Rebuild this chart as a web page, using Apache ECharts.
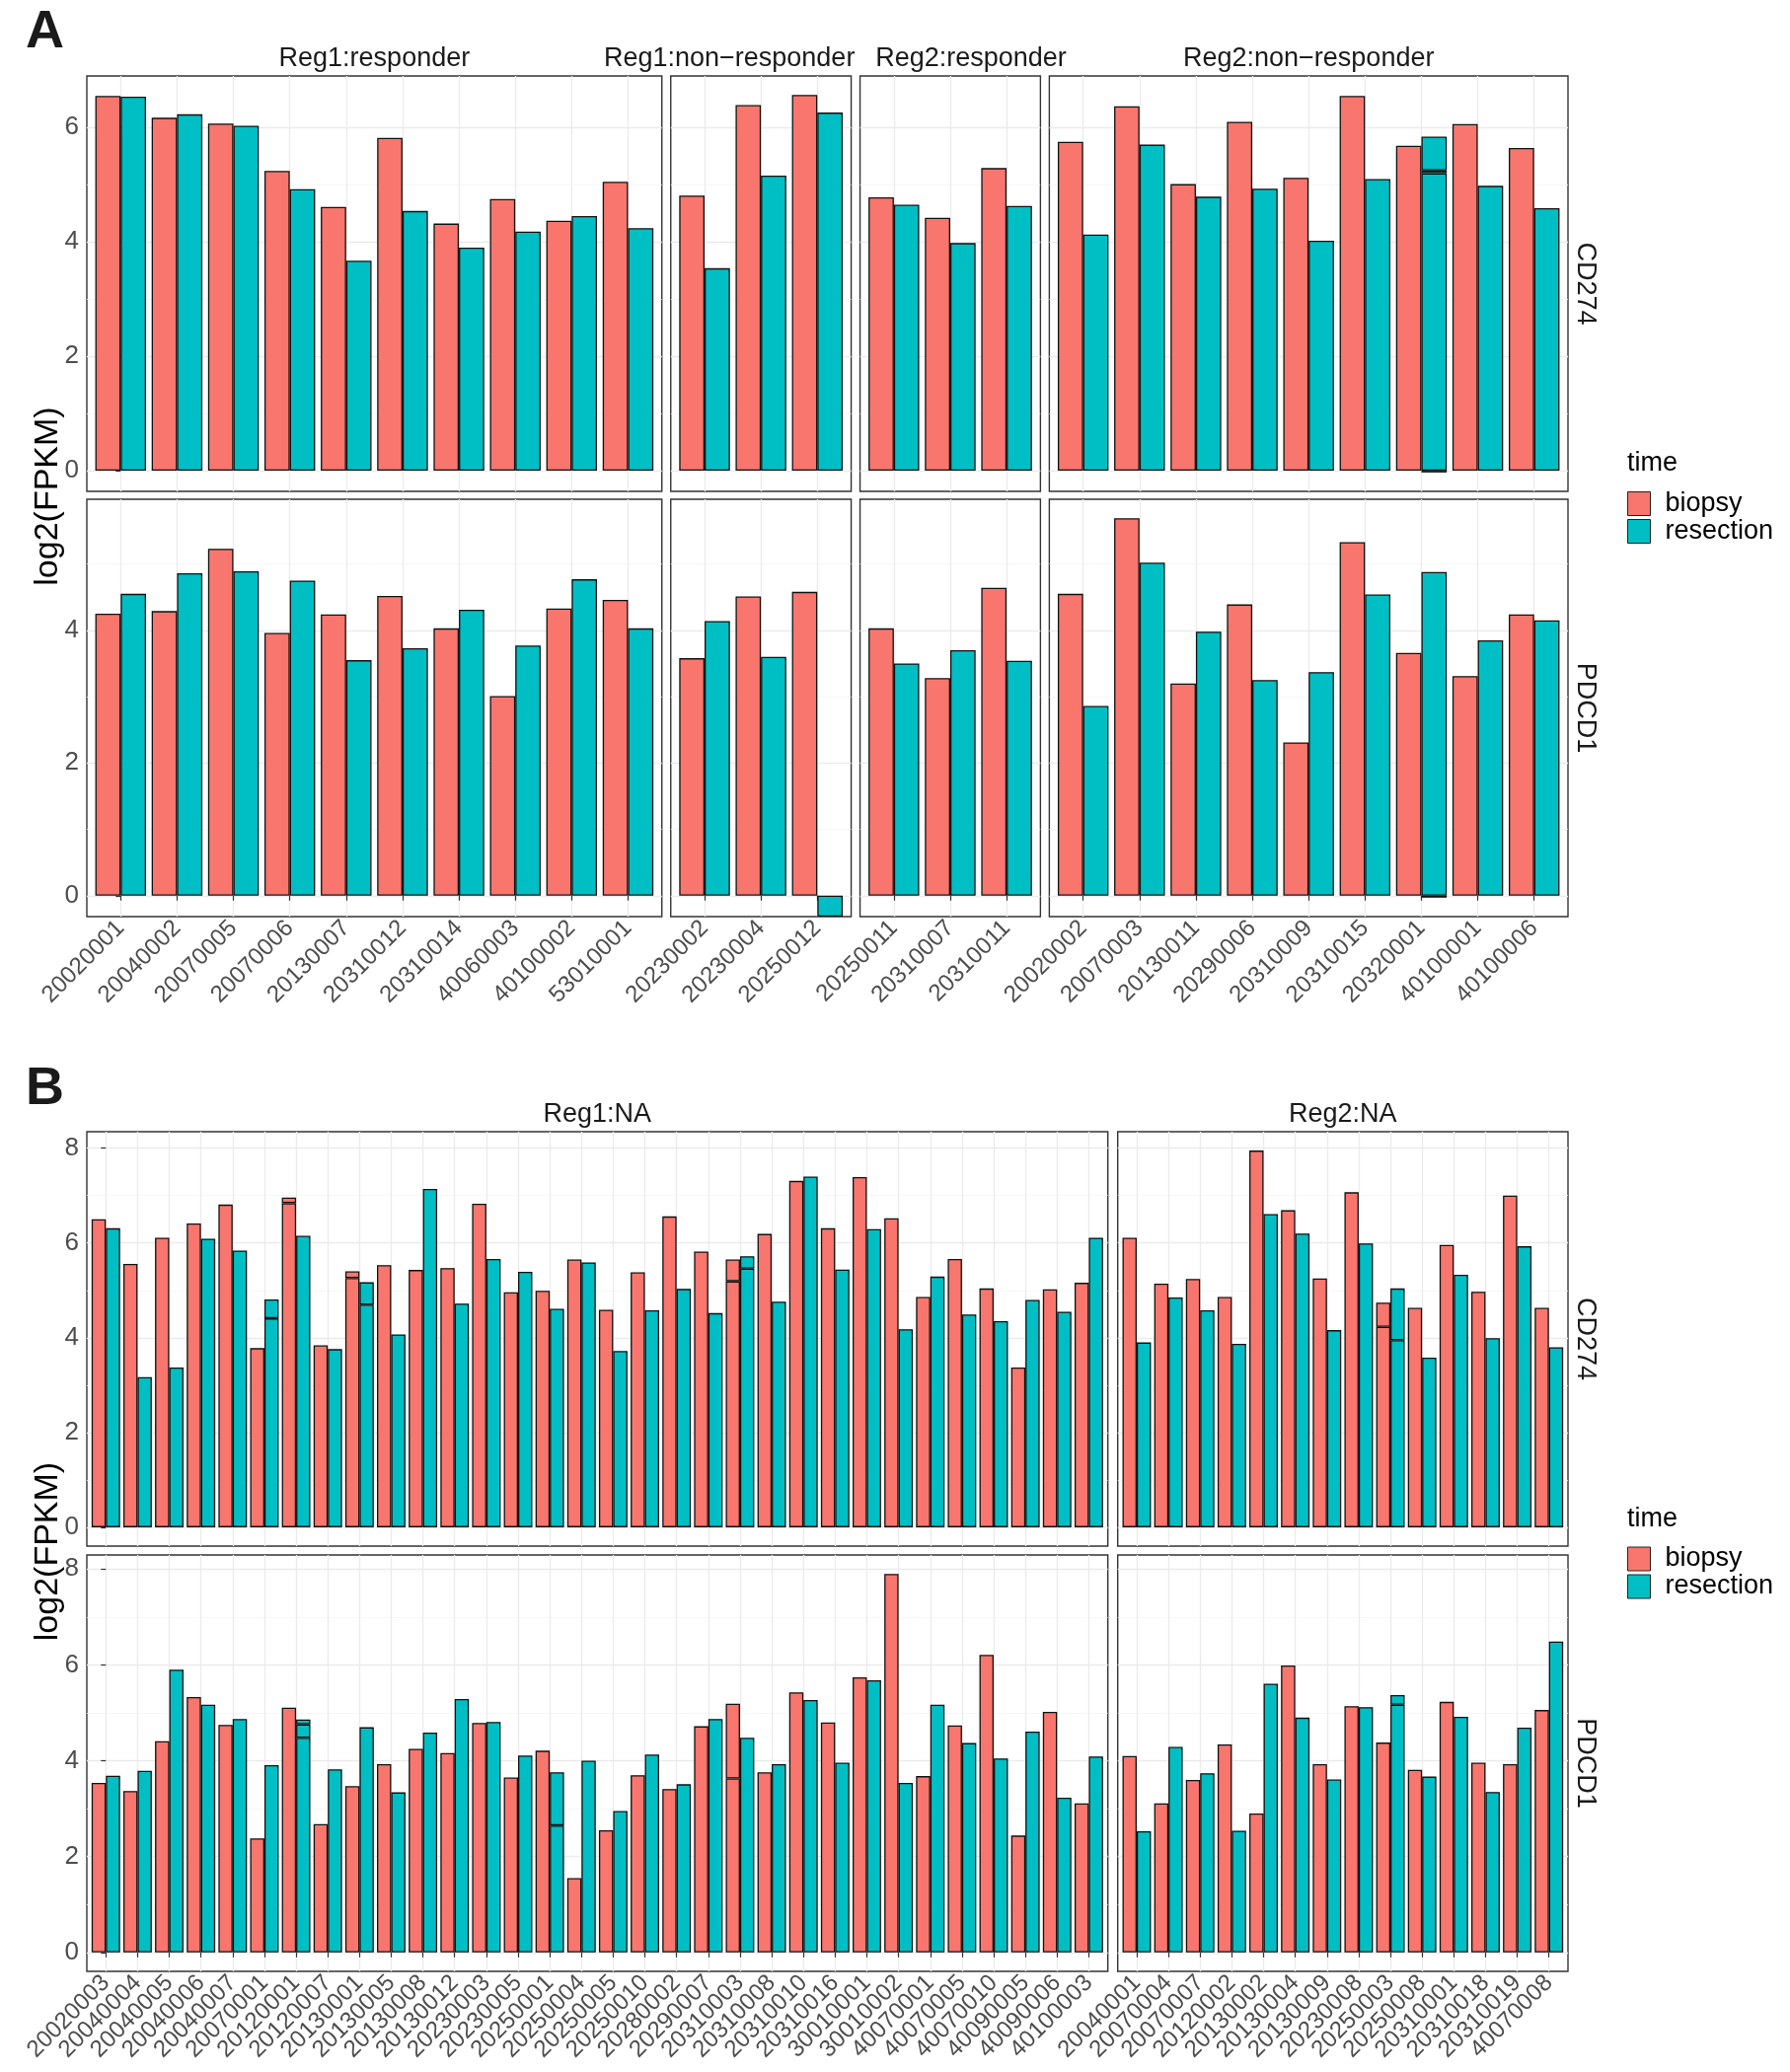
<!DOCTYPE html>
<html>
<head>
<meta charset="utf-8">
<script src="https://cdn.jsdelivr.net/npm/echarts@6/dist/echarts.min.js"></script>
<style>html,body{margin:0;padding:0;background:#fff}#chart{width:1814px;height:2100px}</style>
</head>
<body>
<div id="chart"></div>
<script>
// ===================== DATA =====================
// values are log2(FPKM); an array in a cell = overlapping bars of duplicate samples
// -Infinity = log2(0), drawn by ggplot down to the panel edge
const timeLevels = ['biopsy', 'resection'];
const genes = ['CD274', 'PDCD1'];

// ---- Panel A ----
const aReg1RespCats = ['20020001','20040002','20070005','20070006','20130007','20310012','20310014','40060003','40100002','53010001'];
const aReg1RespCd274Biopsy    = [6.55, 6.17, 6.07, 5.24, 4.61, 5.82, 4.32, 4.75, 4.37, 5.05];
const aReg1RespCd274Resection = [6.54, 6.23, 6.03, 4.92, 3.67, 4.54, 3.90, 4.18, 4.45, 4.24];
const aReg1RespPdcd1Biopsy    = [4.25, 4.29, 5.23, 3.96, 4.24, 4.52, 4.03, 3.01, 4.33, 4.46];
const aReg1RespPdcd1Resection = [4.55, 4.86, 4.89, 4.75, 3.55, 3.73, 4.31, 3.77, 4.77, 4.03];

const aReg1NonCats = ['20230002','20230004','20250012'];
const aReg1NonCd274Biopsy    = [4.81, 6.39, 6.57];
const aReg1NonCd274Resection = [3.54, 5.16, 6.26];
const aReg1NonPdcd1Biopsy    = [3.58, 4.51, 4.58];
const aReg1NonPdcd1Resection = [4.14, 3.60, -Infinity];

const aReg2RespCats = ['20250011','20310007','20310011'];
const aReg2RespCd274Biopsy    = [4.78, 4.42, 5.29];
const aReg2RespCd274Resection = [4.65, 3.98, 4.63];
const aReg2RespPdcd1Biopsy    = [4.03, 3.28, 4.64];
const aReg2RespPdcd1Resection = [3.50, 3.70, 3.54];

const aReg2NonCats = ['20020002','20070003','20130011','20290006','20310009','20310015','20320001','40100001','40100006'];
const aReg2NonCd274Biopsy    = [5.75, 6.37, 5.01, 6.10, 5.12, 6.55, 5.68, 6.06, 5.64];
const aReg2NonCd274Resection = [4.13, 5.70, 4.79, 4.93, 4.02, 5.10, [5.84, 5.25, 5.20, -0.03], 4.98, 4.59];
const aReg2NonPdcd1Biopsy    = [4.55, 5.69, 3.20, 4.39, 2.31, 5.33, 3.66, 3.31, 4.24];
const aReg2NonPdcd1Resection = [2.86, 5.02, 3.98, 3.25, 3.37, 4.54, [4.88, -0.03], 3.85, 4.15];

// ---- Panel B ----
const bReg1Cats = ['20020003','20040004','20040005','20040006','20040007','20070001','20120001','20120007','20130001','20130005','20130008','20130012','20230003','20230005','20250001','20250004','20250005','20250010','20280002','20290007','20310003','20310008','20310010','20310016','30010001','30010002','40070001','40070005','40070010','40090005','40090006','40100003'];
const bReg1Cd274Biopsy    = [6.50, 5.56, 6.11, 6.41, 6.81, 3.78, [6.96, 6.84], 3.84, [5.40, 5.26], 5.53, 5.43, 5.47, 6.83, 4.96, 4.99, 5.65, 4.59, 5.38, 6.56, 5.82, [5.65, 5.19], 6.19, 7.31, 6.31, 7.39, 6.52, 4.86, 5.66, 5.04, 3.37, 5.02, 5.16];
const bReg1Cd274Resection = [6.31, 3.17, 3.37, 6.09, 5.84, [4.81, 4.41], 6.15, 3.76, [5.17, 4.70], 4.07, 7.14, 4.72, 5.66, 5.39, 4.61, 5.59, 3.72, 4.58, 5.03, 4.52, [5.72, 5.46], 4.76, 7.40, 5.44, 6.29, 4.18, 5.29, 4.49, 4.35, 4.80, 4.55, 6.11];
const bReg1Pdcd1Biopsy    = [3.54, 3.37, 4.41, 5.33, 4.75, 2.38, 5.11, 2.68, 3.47, 3.93, 4.25, 4.16, 4.79, 3.65, 4.21, 1.55, 2.55, 3.70, 3.41, 4.72, [5.19, 3.63], 3.76, 5.43, 4.80, 5.74, 7.90, 3.68, 4.74, 6.21, 2.44, 5.02, 3.11];
const bReg1Pdcd1Resection = [3.69, 3.79, 5.90, 5.17, 4.87, 3.91, [4.86, 4.76, 4.48], 3.82, 4.70, 3.34, 4.59, 5.29, 4.81, 4.11, [3.76, 2.65], 4.00, 2.95, 4.13, 3.51, 4.87, 4.48, 3.93, 5.27, 3.96, 5.68, 3.54, 5.17, 4.37, 4.05, 4.61, 3.23, 4.09];

const bReg2Cats = ['20040001','20070004','20070007','20120002','20130002','20130004','20130009','20230008','20250003','20250008','20310001','20310018','20310019','40070008'];
const bReg2Cd274Biopsy    = [6.11, 5.14, 5.24, 4.86, 7.95, 6.69, 5.25, 7.07, [4.74, 4.23], 4.63, 5.96, 4.97, 7.00, 4.63];
const bReg2Cd274Resection = [3.90, 4.85, 4.58, 3.87, 6.61, 6.20, 4.16, 5.99, [5.04, 3.95], 3.58, 5.33, 3.99, 5.93, 3.80];
const bReg2Pdcd1Biopsy    = [4.10, 3.11, 3.60, 4.34, 2.90, 5.99, 3.93, 5.14, 4.38, 3.81, 5.23, 3.96, 3.93, 5.06];
const bReg2Pdcd1Resection = [2.53, 4.29, 3.74, 2.54, 5.61, 4.90, 3.61, 5.12, [5.37, 5.17], 3.67, 4.92, 3.35, 4.69, 6.49];

// ===================== FACETS =====================
const facetsA = [
  { title: 'Reg1:responder',          cats: aReg1RespCats, CD274: [aReg1RespCd274Biopsy, aReg1RespCd274Resection], PDCD1: [aReg1RespPdcd1Biopsy, aReg1RespPdcd1Resection] },
  { title: 'Reg1:non\u2212responder', cats: aReg1NonCats,  CD274: [aReg1NonCd274Biopsy, aReg1NonCd274Resection],   PDCD1: [aReg1NonPdcd1Biopsy, aReg1NonPdcd1Resection] },
  { title: 'Reg2:responder',          cats: aReg2RespCats, CD274: [aReg2RespCd274Biopsy, aReg2RespCd274Resection], PDCD1: [aReg2RespPdcd1Biopsy, aReg2RespPdcd1Resection] },
  { title: 'Reg2:non\u2212responder', cats: aReg2NonCats,  CD274: [aReg2NonCd274Biopsy, aReg2NonCd274Resection],   PDCD1: [aReg2NonPdcd1Biopsy, aReg2NonPdcd1Resection] }
];
const facetsB = [
  { title: 'Reg1:NA', cats: bReg1Cats, CD274: [bReg1Cd274Biopsy, bReg1Cd274Resection], PDCD1: [bReg1Pdcd1Biopsy, bReg1Pdcd1Resection] },
  { title: 'Reg2:NA', cats: bReg2Cats, CD274: [bReg2Cd274Biopsy, bReg2Cd274Resection], PDCD1: [bReg2Pdcd1Biopsy, bReg2Pdcd1Resection] }
];

// ===================== STYLE / LAYOUT =====================
const FONT = '"Liberation Sans", Arial, Helvetica, sans-serif';
const fills = { biopsy: '#F8766D', resection: '#00BFC4' };
const option = {
  animation: false, backgroundColor: '#ffffff',
  textStyle: { fontFamily: FONT },
  grid: [], xAxis: [], yAxis: [], series: [], legend: [], graphic: []
};

function segments(v) {
  const vals = Array.isArray(v) ? v : [v];
  const pos = vals.filter(x => x > 0).sort((a, b) => a - b);
  const neg = vals.filter(x => x < 0);
  const segs = []; let prev = 0;
  pos.forEach(p => { segs.push(p - prev); prev = p; });
  return { segs, neg: neg.length ? Math.min(...neg) : null };
}
function rowLimits(facets, gene) {
  let lo = 0, hi = -Infinity;
  facets.forEach(f => f[gene].forEach(arr => arr.forEach(v => (Array.isArray(v) ? v : [v]).forEach(x => {
    if (isFinite(x)) { lo = Math.min(lo, x); hi = Math.max(hi, x); }
  }))));
  const pad = 0.05 * (hi - lo);
  return [lo - pad, hi + pad];
}
function barSeries(name, xi, yi, stack, data) {
  return {
    type: 'bar', name, xAxisIndex: xi, yAxisIndex: yi, stack, data,
    barGap: '0%', barCategoryGap: '10%', silent: true,
    itemStyle: { color: fills[name], borderColor: '#111111', borderWidth: 1.3 },
    emphasis: { disabled: true }
  };
}
function text(x, y, str, size, opts) {
  opts = opts || {};
  const st = {
    text: str, fill: opts.color || '#1a1a1a',
    fontSize: size, fontFamily: FONT, fontWeight: opts.weight || 'normal',
    align: opts.align || 'center', verticalAlign: 'middle',
    textAlign: opts.align || 'center', textVerticalAlign: 'middle'
  };
  option.graphic.push({ type: 'text', x, y, rotation: opts.rotation || 0, silent: true, style: st });
}

function addPanel(p) {
  const { facets, rows, left, right, gap, titleDx } = p;
  const units = facets.map(f => f.cats.length + 0.2);   // ggplot discrete expansion 0.6 each side
  const total = units.reduce((a, b) => a + b, 0);
  const unit = (right - left - gap * (facets.length - 1)) / total;
  let cx = left;
  const cols = units.map(u => { const c = { left: cx, width: u * unit }; cx += u * unit + gap; return c; });

  genes.forEach((gene, r) => {
    const [top, bottom] = rows[r];
    const [ymin, ymax] = rowLimits(facets, gene);
    const majors = [], minors = [];
    for (let v = Math.ceil(ymin) + 0; v <= Math.floor(ymax); v++) (v % 2 === 0 ? majors : minors).push(v);
    const isBottom = r === genes.length - 1;
    facets.forEach((f, c) => {
      const n = f.cats.length;
      const idx = f.cats.map((_, i) => i);
      // outer panel: border + grid lines
      const go = option.grid.length;
      option.grid.push({
        left: cols[c].left, top, width: cols[c].width, height: bottom - top,
        show: true, borderColor: '#333333', borderWidth: 1.4, backgroundColor: '#ffffff',
        containLabel: false, outerBoundsMode: 'none'
      });
      option.xAxis.push({
        type: 'value', gridIndex: go, min: -0.6, max: n - 0.4,
        axisLine: { show: false },
        axisTick: { show: false, customValues: idx },
        axisLabel: { show: false, customValues: idx },
        splitLine: { show: true, lineStyle: { color: '#EBEBEB', width: 1.3 } }
      });
      option.yAxis.push({
        type: 'value', gridIndex: go, min: ymin, max: ymax, position: 'left',
        axisLine: { show: false },
        axisTick: { show: c === 0, customValues: majors, length: 5, lineStyle: { color: '#333333', width: 1.2 } },
        axisLabel: { show: c === 0, customValues: majors, fontSize: 26, color: '#4D4D4D', margin: 8, fontFamily: FONT },
        splitLine: { show: true, lineStyle: { color: '#EBEBEB', width: 1.3 } }
      });
      option.yAxis.push({
        type: 'value', gridIndex: go, min: ymin, max: ymax, position: 'left',
        axisLine: { show: false },
        axisTick: { show: false, customValues: minors },
        axisLabel: { show: false, customValues: minors },
        splitLine: { show: true, lineStyle: { color: '#F4F4F4', width: 0.8 } }
      });
      // inner plotting grid: exactly the n category bands (panel minus expansion)
      const gi = option.grid.length;
      option.grid.push({
        left: cols[c].left + 0.1 * unit, top, width: n * unit, height: bottom - top,
        show: false, containLabel: false, outerBoundsMode: 'none'
      });
      const xi = option.xAxis.length;
      option.xAxis.push({
        type: 'category', gridIndex: gi, data: f.cats, boundaryGap: true,
        axisLine: { show: false },
        axisTick: { show: isBottom, alignWithLabel: true, interval: 0, length: 5, lineStyle: { color: '#333333', width: 1.2 } },
        axisLabel: { show: isBottom, interval: 0, rotate: 45, fontSize: 24, color: '#4D4D4D', margin: 8, fontFamily: FONT },
        splitLine: { show: false }
      });
      const yi = option.yAxis.length;
      option.yAxis.push({
        type: 'value', gridIndex: gi, min: ymin, max: ymax,
        axisLine: { show: false }, axisTick: { show: false }, axisLabel: { show: false }, splitLine: { show: false }
      });

      timeLevels.forEach((t, ti) => {
        const segs = f[gene][ti].map(v => segments(v));
        const K = Math.max(...segs.map(s => s.segs.length));
        const stack = 'g' + gi + '-' + t;
        for (let k = 0; k < K; k++) {
          option.series.push(barSeries(t, xi, yi, stack, segs.map(s => s.segs[k] != null ? s.segs[k] : null)));
        }
        if (segs.some(s => s.neg !== null)) {
          option.series.push(barSeries(t, xi, yi, stack, segs.map(s => s.neg === null ? null : Math.max(s.neg, ymin))));
        }
      });
      if (r === 0) text(cols[c].left + cols[c].width / 2 + (titleDx[c] || 0), top - 17, f.title, 27);
    });
    // right strip (gene)
    text(1606, (top + bottom) / 2, gene, 27, { rotation: -Math.PI / 2 });
  });
  const midY = (rows[0][0] + rows[1][1]) / 2;
  text(49, midY, 'log2(FPKM)', 34, { rotation: Math.PI / 2, color: '#000' });
  text(26, p.letterY, p.letter, 54, { align: 'left', weight: 'bold', color: '#1a1a1a' });
  // legend
  text(1649, midY - 33, 'time', 27, { align: 'left', color: '#000' });
  option.legend.push({
    data: timeLevels, orient: 'vertical', left: 1649, top: midY - 6, padding: 0,
    icon: 'rect', itemWidth: 23, itemHeight: 24, itemGap: 1, selectedMode: false,
    itemStyle: { borderColor: '#222', borderWidth: 1 },
    textStyle: { fontSize: 27, color: '#000', fontFamily: FONT, lineHeight: 24, padding: [0, 0, 0, 10] }
  });
}

addPanel({ facets: facetsA, rows: [[77, 498], [506, 929]], left: 88, right: 1589, gap: 9, titleDx: [0, -32, 21, 0], letter: 'A', letterY: 33 });
addPanel({ facets: facetsB, rows: [[1147, 1567], [1576, 1998]], left: 88, right: 1589, gap: 10, titleDx: [0, 0], letter: 'B', letterY: 1104 });

const chart = echarts.init(document.getElementById('chart'), null, { renderer: 'canvas' });
chart.setOption(option);
</script>
</body>
</html>
